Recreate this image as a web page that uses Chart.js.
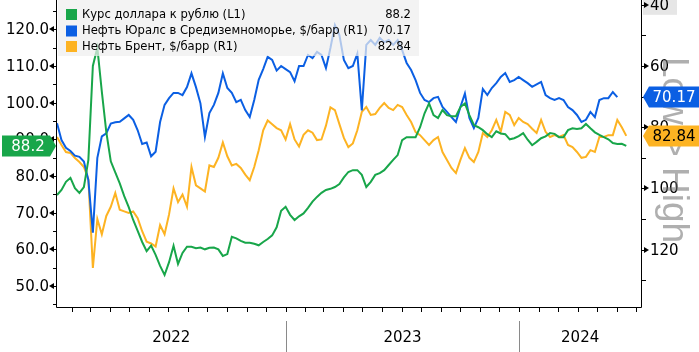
<!DOCTYPE html>
<html>
<head>
<meta charset="utf-8">
<script src="https://cdn.jsdelivr.net/npm/chart.js@4.4.0/dist/chart.umd.min.js"></script>
<style>html,body{margin:0;padding:0;background:#fff}canvas{display:block}</style>
</head>
<body>
<canvas id="c" width="699" height="352"></canvas>
<script>
// ====== Data ======
// weekly points, day 0 = 2022-01-01
const startDay = 8, stepDays = 7;
const rub = [74.8,76.2,78.4,79.5,76.7,75.4,77,84.4,110,115,103,92,84,81,78,74.5,71.5,68,65,62,59.5,61,58.5,55.5,53,56.5,61,56,59,60.7,
  60.7,60.3,60.5,60,60.4,60.5,60,58.2,58.7,63.4,63,62.3,61.8,61.8,61.5,61.1,62,62.8,63.8,66,70.5,71.6,69.4,68,69,69.8,71.3,73,74.3,75.4,
  76.2,76.5,77,77.8,79.6,81.1,81.6,81.6,80.3,77,78.4,80.3,80.8,81.6,83,84.4,85.7,89.8,90.6,90.6,90.6,93.3,97.1,99.8,96.6,95.8,98,96.6,96.3,96.3,
  98.8,99.8,96.6,93.9,93.3,92.5,91.4,90.6,92.2,91.6,91.4,90,90.3,90.9,91.7,89.9,88.4,89.3,90.3,90.8,91.7,91.5,90.6,90.6,92.5,93,92.8,93,94.2,93,
  91.9,91.2,90.6,90,89,88.7,88.8,88.2];
const urals = [78.7,84.2,86.7,87.8,89.3,89.7,91.2,97.3,114.5,90,83,82,78.8,78.4,78.2,77.1,76,77.6,81,85.5,85,89.5,88,78.3,72.7,70.5,68.8,68.8,69.5,66.9,
  62.4,66.9,72.2,83.2,75.4,72.7,68.8,62.4,67.2,68.8,71.8,71.1,74.4,76.7,71.1,64.5,61,57,58,61.5,60,61,62,65,60,60,56.4,57.4,55.4,56.4,
  60.7,54.1,46.6,49.9,58,60.7,60,56,74.5,53.1,51.5,53.1,50.8,52.2,51.5,53.1,51.5,54.8,59,61.3,64.6,68.8,71.1,71.8,70.5,70.1,73.4,75,76.7,78.3,
  73.4,69,77,80.3,77,67.5,69.5,67.2,65.6,63.6,62.3,65.2,64.6,63.6,64.6,65.6,66.8,66,65.2,69.5,70.5,71.1,70.5,71.1,73.4,74.4,76,78.3,77.6,75,
  76.7,71.1,70.5,70.5,68.5,70.17,null,null];
const brent = [83.2,85.8,88.1,88.4,90.1,91.4,93,97,126,110,115,109,106,101.5,107,107.5,108,107.5,109.7,114,117.4,118,119,112,115,108.5,100,104.5,102,106,
  93,99,100,101,92.5,93,90,85,89.5,92.5,92,93.3,95.5,97.3,93,87.5,81,77.8,79,80.3,81,84,79,84,86.3,82.5,81,81.8,84.2,84,
  79.5,73.5,74.4,79,83.5,86.5,85.3,81,75,73.4,76,75.7,73.7,72.1,73.7,74.4,72.7,73.4,76,78.3,81.6,82.6,84.2,85.8,84.2,83.2,88.1,90.7,93.3,95,
  90.7,86.8,90,91.4,88.1,81.9,83.2,81,77.6,81.5,75,76,79.3,77,78.3,79,80.5,81.9,77.6,81.5,83.2,82.6,83.2,82.6,85.8,86.5,88.1,90,89.7,87.5,
  88.1,83.2,83.2,82.6,82.6,77.6,80,82.84];

const names = ['Курс доллара к рублю (L1)','Нефть Юралс в Средиземноморье, $/барр (R1)','Нефть Брент, $/барр (R1)'];
const lastVals = ['88.2','70.17','82.84'];
const colors = ['#18a64a','#0b5fe3','#fdb322'];
const leftTicks = [50,60,70,80,90,100,110,120];
const leftMinor = [45,55,65,75,85,95,105,115,125];
const rightTicks = [40,60,80,100,120];
const rightMinor = [50,70,90,110,130];
const years = [2022,2023,2024];

// ====== Helpers ======
const pts = arr => arr.map((v,i)=>({x:startDay+i*stepDays, y:v}));
const dayOf = (y,m) => (Date.UTC(y,m,1)-Date.UTC(2022,0,1))/864e5;
const FONT = "'DejaVu Sans', sans-serif";

function flag(ctx, x, y, w, dir, bg, fg, txt){
  // dir 1: body left, tip to the right; dir -1: tip to the left
  const h=21, t=6;
  ctx.fillStyle=bg; ctx.beginPath();
  if(dir>0){ ctx.moveTo(x-w-t,y-h/2); ctx.lineTo(x-t,y-h/2); ctx.lineTo(x,y); ctx.lineTo(x-t,y+h/2); ctx.lineTo(x-w-t,y+h/2); }
  else { ctx.moveTo(x+w+t,y-h/2); ctx.lineTo(x+t,y-h/2); ctx.lineTo(x,y); ctx.lineTo(x+t,y+h/2); ctx.lineTo(x+w+t,y+h/2); }
  ctx.closePath(); ctx.fill();
  ctx.fillStyle=fg; ctx.font='15px '+FONT; ctx.textAlign='center'; ctx.textBaseline='middle';
  ctx.fillText(txt, dir>0 ? x-t-w/2+2 : x+t+w/2, y+1);
}

// ====== Decorations ======
const deco = {
  id:'deco',
  afterDraw(chart){
    const ctx=chart.ctx, a=chart.chartArea, xs=chart.scales.x, yl=chart.scales.yL, yr=chart.scales.yR;
    ctx.save();
    // legend box
    ctx.fillStyle='rgba(238,238,238,0.72)'; ctx.fillRect(a.left+1,0,361,56);
    ctx.font='11.6px '+FONT; ctx.textBaseline='middle';
    [14.5,31,46.5].forEach((cy,i)=>{
      ctx.fillStyle=colors[i]; ctx.fillRect(66,cy-5.5,11,11);
      ctx.fillStyle='#000'; ctx.textAlign='left'; ctx.fillText(names[i],82,cy);
      ctx.textAlign='right'; ctx.fillText(lastVals[i],411,cy);
    });
    // axis lines
    ctx.strokeStyle='#000'; ctx.lineWidth=1; ctx.beginPath();
    ctx.moveTo(a.left-0.5,0); ctx.lineTo(a.left-0.5,a.bottom+0.5); ctx.lineTo(a.right+0.5,a.bottom+0.5); ctx.lineTo(a.right+0.5,0);
    ctx.stroke();
    // left axis
    ctx.fillStyle='#000'; ctx.font='15px '+FONT; ctx.textAlign='right'; ctx.textBaseline='middle';
    leftTicks.forEach(v=>{
      const y=Math.round(yl.getPixelForValue(v));
      ctx.beginPath(); ctx.moveTo(a.left-8,y); ctx.lineTo(a.left-3,y-3); ctx.lineTo(a.left-3,y+3); ctx.closePath(); ctx.fill();
      ctx.fillRect(a.left-4,y,4,1);
      ctx.fillText(v.toFixed(1),a.left-8,y+1);
    });
    leftMinor.forEach(v=>{ const y=Math.round(yl.getPixelForValue(v)); ctx.fillRect(a.left-4,y,4,1); });
    // right axis
    const ty=yr.getPixelForValue(40);
    ctx.fillStyle='#e6e6e6'; ctx.fillRect(a.right+2,ty-7,34,17);
    ctx.fillStyle='#000'; ctx.textAlign='left';
    rightTicks.forEach(v=>{
      const y=Math.round(yr.getPixelForValue(v));
      ctx.beginPath(); ctx.moveTo(a.right+8,y); ctx.lineTo(a.right+3,y-3); ctx.lineTo(a.right+3,y+3); ctx.closePath(); ctx.fill();
      ctx.fillRect(a.right,y,4,1);
      ctx.fillText(String(v),a.right+9,y+1);
    });
    rightMinor.forEach(v=>{ const y=Math.round(yr.getPixelForValue(v)); ctx.fillRect(a.right,y,5,1); });
    // low > high
    ctx.save(); ctx.translate(663,57); ctx.rotate(Math.PI/2);
    ctx.fillStyle='rgba(110,110,110,0.55)'; ctx.font="37px 'Liberation Sans', sans-serif"; ctx.textAlign='left'; ctx.textBaseline='alphabetic';
    ctx.fillText('Low > High',0,0); ctx.restore();
    // x axis month ticks
    ctx.fillStyle='#000';
    for(let m=0;m<=31;m++){
      const d=dayOf(2022,m); if(d<xs.min||d>xs.max) continue;
      const x=Math.round(xs.getPixelForValue(d)); ctx.fillRect(x,a.bottom,1,5);
    }
    // years
    ctx.font='15px '+FONT; ctx.textAlign='center'; ctx.textBaseline='middle';
    years.forEach(yy=>{
      const d0=Math.max(dayOf(yy,0),xs.min), d1=Math.min(dayOf(yy+1,0),xs.max);
      ctx.fillStyle='#000'; ctx.fillText(String(yy),xs.getPixelForValue((d0+d1)/2),338);
      if(dayOf(yy,0)>xs.min){ ctx.fillStyle='#8a8a8a'; ctx.fillRect(Math.round(xs.getPixelForValue(dayOf(yy,0))),321,1,31); }
    });
    // last value flags
    flag(ctx,a.left-1,yl.getPixelForValue(88.2),48,1,colors[0],'#fff',lastVals[0]);
    flag(ctx,a.right+2,yr.getPixelForValue(70.17),50,-1,colors[1],'#fff',lastVals[1]);
    flag(ctx,a.right+2,yr.getPixelForValue(82.84),50,-1,colors[2],'#000',lastVals[2]);
    ctx.restore();
  }
};

// ====== Chart ======
const ds = (label,data,color,axis)=>({label,data:pts(data),yAxisID:axis,borderColor:color,borderWidth:2,pointRadius:0,tension:0,fill:false});
new Chart(document.getElementById('c'),{
  type:'line',
  data:{datasets:[ ds(names[0],rub,colors[0],'yL'), ds(names[1],urals,colors[1],'yR'), ds(names[2],brent,colors[2],'yR') ]},
  options:{
    responsive:false, devicePixelRatio:1, animation:false,
    layout:{padding:{left:57,right:58,top:0,bottom:45}},
    plugins:{legend:{display:false},tooltip:{enabled:false}},
    scales:{
      x:{type:'linear',min:8,max:920,display:false},
      yL:{position:'left',min:44.27,max:128,display:false},
      yR:{position:'right',min:38.43,max:138.76,reverse:true,display:false}
    }
  },
  plugins:[deco]
});
</script>
</body>
</html>
